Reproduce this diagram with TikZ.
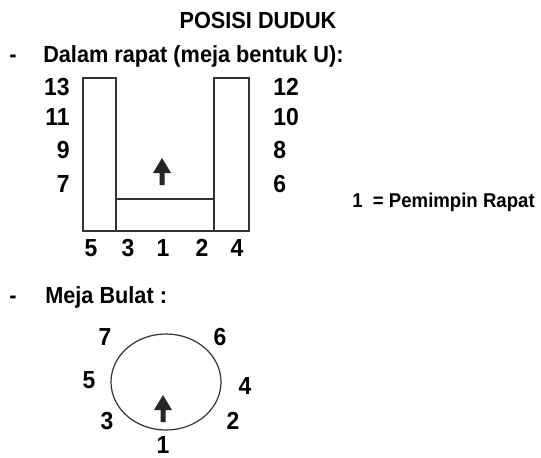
\documentclass[tikz,border=0pt]{standalone}
\usepackage{fontspec}
\setmainfont{Liberation Sans}[FakeStretch=0.93]
\usetikzlibrary{shapes.geometric}
\begin{document}
\begin{tikzpicture}[x=0.75pt,y=-0.75pt,
  lbl/.style={font=\fontsize{18.5}{20}\selectfont\bfseries, inner sep=0pt, anchor=base},
  head/.style={font=\fontsize{17.5}{20}\selectfont\bfseries, inner sep=0pt, anchor=base},
  note/.style={font=\fontsize{15}{16}\selectfont\bfseries, inner sep=0pt, anchor=base west},
  table/.style={draw=black!80, line width=0.9pt, fill=white},
  seatarrow/.style={fill=black!85, draw=none}]
\useasboundingbox (0,0) rectangle (541,457);

% headings
\node[head] (title) at (258,28) {POSISI DUDUK};
\node[head] (dash1) at (13,62) {-};
\node[head, anchor=base west] (sub1) at (43,62) {Dalam rapat (meja bentuk U):};

% U-shaped table
\draw[table] (83,78) rectangle (116,231) coordinate (lefttab);
\draw[table] (214,78) rectangle (249,231) coordinate (righttab);
\draw[table] (116,199) rectangle (214,231) coordinate (basetab);

% seats along the left and right sides
\foreach \n/\y in {13/95, 11/125, 9/158, 7/192}
  \node[lbl, anchor=base east] (L\n) at (70,\y) {\n};
\foreach \n/\y in {12/95, 10/125, 8/158, 6/192}
  \node[lbl, anchor=base west] (R\n) at (273,\y) {\n};
% seats along the bottom
\foreach \n/\x in {5/91, 3/128, 1/163, 2/202, 4/237}
  \node[lbl] (B\n) at (\x,256) {\n};

% direction of the chair
\fill[seatarrow] (159.5,185) -- (159.5,173) -- (153,173) -- (162,158) -- (171,173) -- (164.5,173) -- (164.5,185) -- cycle;

\node[note] (legend) at (352,207) {1\ \ = Pemimpin Rapat};

% round table
\node[head] (dash2) at (13,303) {-};
\node[head, anchor=base west] (sub2) at (45,303) {Meja Bulat :};
\node[draw=black!80, line width=0.9pt, ellipse, minimum width=110*0.75pt, minimum height=96*0.75pt, inner sep=0pt] (round) at (166,382) {};
\foreach \n/\x/\y in {7/105/345, 6/220/345, 5/89/388, 4/245/394, 3/107/429, 2/233/429, 1/163/453}
  \node[lbl] (C\n) at (\x,\y) {\n};
\fill[seatarrow] (160.5,422) -- (160.5,410) -- (154,410) -- (163,395) -- (172,410) -- (165.5,410) -- (165.5,422) -- cycle;
\end{tikzpicture}
\end{document}
